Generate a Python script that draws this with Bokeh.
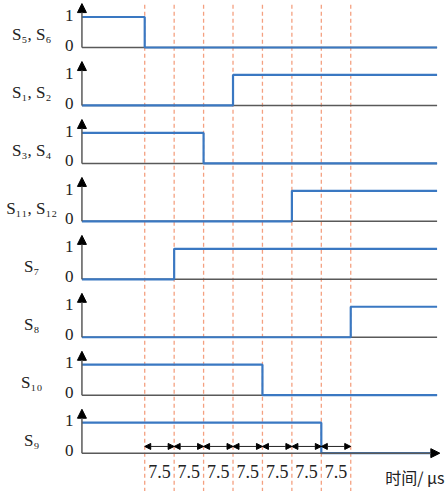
from bokeh.plotting import figure
from bokeh.models import ColumnDataSource, Range1d, Arrow, NormalHead
from bokeh.core.properties import value
from bokeh.embed import file_html
from bokeh.resources import INLINE

# ---- data ----
row_labels = ["S\u2085, S\u2086", "S\u2081, S\u2082", "S\u2083, S\u2084", "S\u2081\u2081, S\u2081\u2082",
              "S\u2087", "S\u2088", "S\u2081\u2080", "S\u2089"]
init_state = [1, 0, 1, 0, 0, 0, 1, 1]
switch_time = [0, 22.5, 15, 37.5, 7.5, 52.5, 30, 45]          # µs
edge_times = [0, 7.5, 15, 22.5, 30, 37.5, 45, 52.5]            # dashed lines, µs
interval_labels = ["7.5"] * 7
level_labels = ["1", "0"]
time_label = "时间/ μs"

t_axis = -16.0      # time at vertical axes
t_end = 74.5        # end of the horizontal traces
row_step = 1.9      # vertical spacing of rows (signal amplitude = 1)

BLUE = "#3a78c2"
GRAY = "#595959"
RED = "#f4a080"
SERIF = value("'Liberation Serif', 'Times New Roman', serif")

p = figure(width=446, height=491, output_backend="svg", toolbar_location=None,
           x_range=Range1d(-36.75, 76.9), y_range=Range1d(-14.557, 1.541),
           min_border=0, outline_line_color=None)
p.axis.visible = False
p.grid.visible = False

n = len(row_labels)
bases = [-k * row_step for k in range(n)]

# dashed guide lines
p.segment(x0=edge_times, y0=[1.4] * len(edge_times), x1=edge_times, y1=[-15] * len(edge_times),
          line_color=RED, line_width=1.3, line_dash="4 3")

# horizontal baselines (gray)
p.segment(x0=[t_axis] * (n - 1), y0=bases[:-1], x1=[t_end] * (n - 1), y1=bases[:-1],
          line_color=GRAY, line_width=1.5)
# last row horizontal axis with arrow
p.add_layout(Arrow(x_start=t_axis, y_start=bases[-1], x_end=75.2, y_end=bases[-1],
                   line_color=GRAY, line_width=1.5,
                   end=NormalHead(size=9, fill_color="black", line_color="black")))

# vertical axes with arrows
vsrc = ColumnDataSource(dict(xs=[t_axis] * n, ys=bases, ye=[b + 1.44 for b in bases]))
p.add_layout(Arrow(x_start="xs", y_start="ys", x_end="xs", y_end="ye", source=vsrc,
                   line_color=GRAY, line_width=1.5,
                   end=NormalHead(size=9, fill_color="black", line_color="black")))

# signals
xs, ys = [], []
for b, s0, ts in zip(bases, init_state, switch_time):
    s1 = 1 - s0
    xs.append([t_axis, ts, ts, t_end])
    ys.append([b + s0, b + s0, b + s1, b + s1])
p.multi_line(xs=xs, ys=ys, line_color=BLUE, line_width=2.2)

# level labels 1 / 0
p.text(x=[-19.2] * n, y=[b + 1.06 for b in bases], text=[level_labels[0]] * n,
       text_font=SERIF, text_font_size="17px", text_color="#222222",
       text_align="center", text_baseline="middle")
p.text(x=[-19.2] * n, y=[b + 0.08 for b in bases], text=[level_labels[1]] * n,
       text_font=SERIF, text_font_size="17px", text_color="#222222",
       text_align="center", text_baseline="middle")

# row labels
p.text(x=[-28.8] * n, y=[b + 0.42 for b in bases], text=row_labels,
       text_font=SERIF, text_font_size="17px", text_color="#222222",
       text_align="center", text_baseline="alphabetic")

# dimension arrows between dashed lines
dsrc = ColumnDataSource(dict(x0=edge_times[:-1], x1=edge_times[1:],
                             y=[bases[-1] + 0.22] * (len(edge_times) - 1)))
p.add_layout(Arrow(x_start="x0", y_start="y", x_end="x1", y_end="y", source=dsrc,
                   line_color="#222222", line_width=1,
                   start=NormalHead(size=6, fill_color="black", line_color="black"),
                   end=NormalHead(size=6, fill_color="black", line_color="black")))
mids = [(a + c) / 2 for a, c in zip(edge_times[:-1], edge_times[1:])]
p.text(x=mids, y=[bases[-1] - 0.6] * len(mids), text=interval_labels,
       text_font=SERIF, text_font_size="18px", text_color="#222222",
       text_align="center", text_baseline="middle")

# time axis label
p.text(x=[76.4], y=[bases[-1] - 0.78], text=[time_label],
       text_font=value("Noto Sans CJK SC"), text_font_size="16px", text_color="#222222",
       text_align="right", text_baseline="middle")

open("out.html", "w").write(file_html(p, INLINE))
